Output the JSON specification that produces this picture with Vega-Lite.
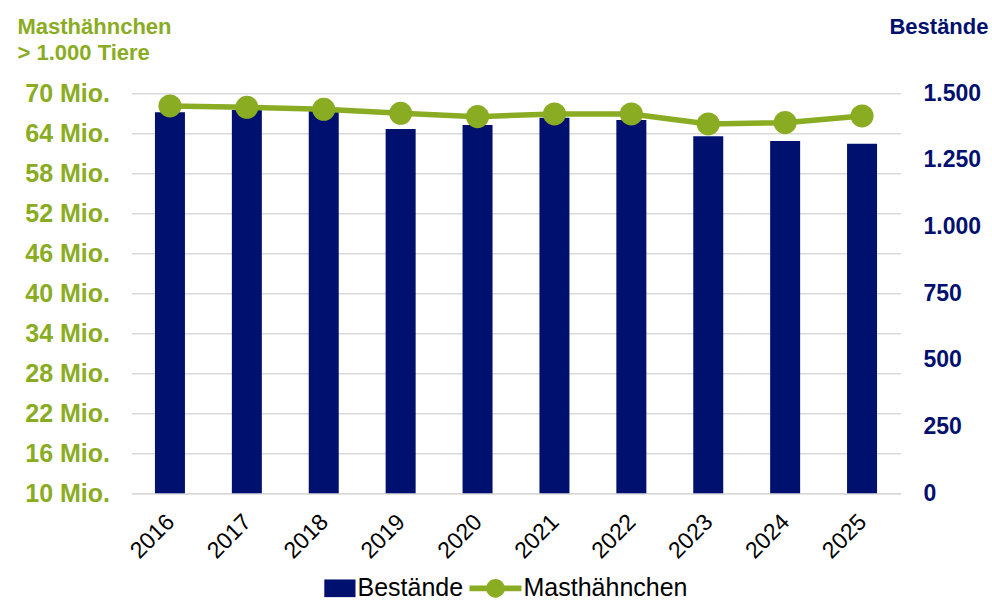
{
  "$schema": "https://vega.github.io/schema/vega-lite/v6.json",
  "width": 769,
  "height": 400,
  "autosize": {"type": "none"},
  "padding": {"left": 131.5, "top": 93.3, "right": 91.5, "bottom": 106.7},
  "background": "white",
  "config": {
    "font": "Liberation Sans",
    "view": {"stroke": null}
  },
  "data": {
    "values": [
      {"Jahr": "2016", "Bestaende": 1429, "Mio": 68.1},
      {"Jahr": "2017", "Bestaende": 1437, "Mio": 67.9},
      {"Jahr": "2018", "Bestaende": 1434, "Mio": 67.6},
      {"Jahr": "2019", "Bestaende": 1366, "Mio": 67.0},
      {"Jahr": "2020", "Bestaende": 1381, "Mio": 66.5},
      {"Jahr": "2021", "Bestaende": 1408, "Mio": 66.9},
      {"Jahr": "2022", "Bestaende": 1400, "Mio": 66.9},
      {"Jahr": "2023", "Bestaende": 1339, "Mio": 65.4},
      {"Jahr": "2024", "Bestaende": 1321, "Mio": 65.6},
      {"Jahr": "2025", "Bestaende": 1311, "Mio": 66.6}
    ]
  },
  "encoding": {
    "x": {
      "field": "Jahr",
      "type": "ordinal",
      "scale": {"paddingInner": 0.61, "paddingOuter": 0.305},
      "axis": {
        "title": null,
        "labelAngle": -45,
        "labelFontSize": 23,
        "labelColor": "#000000",
        "labelPadding": 17,
        "labelOffset": -7,
        "ticks": false,
        "domainColor": "#d9d9d9",
        "domainWidth": 1.5,
        "grid": false
      }
    }
  },
  "layer": [
    {
      "mark": {"type": "bar"},
      "encoding": {
        "y": {
          "field": "Bestaende",
          "type": "quantitative",
          "scale": {"domain": [0, 1500], "nice": false},
          "axis": {
            "orient": "right",
            "values": [0, 250, 500, 750, 1000, 1250, 1500],
            "labelExpr": "replace(format(datum.value, ','), ',', '.')",
            "labelFontSize": 23,
            "labelFontWeight": "bold",
            "labelColor": "#00106f",
            "labelPadding": 22.5,
            "ticks": false,
            "domain": false,
            "grid": false,
            "title": "Bestände",
            "titleFontSize": 22,
            "titleFontWeight": "bold",
            "titleColor": "#00106f",
            "titleAngle": 0,
            "titleAlign": "right",
            "titleBaseline": "top",
            "titleX": 87.5,
            "titleY": -77
          }
        },
        "color": {
          "datum": "Bestände",
          "type": "nominal",
          "scale": {"domain": ["Bestände", "Masthähnchen"], "range": ["#00106f", "#8aac23"]},
          "legend": {
            "title": null,
            "orient": "none",
            "direction": "horizontal",
            "legendX": 172,
            "legendY": 469,
            "labelFontSize": 25,
            "labelColor": "#000000",
            "labelLimit": 400,
            "labelOffset": 2,
            "columnPadding": 6,
            "symbolSize": 2704,
            "symbolStrokeWidth": 0,
            "encode": {
              "symbols": {
                "update": {
                  "shape": {"signal": "datum.value === 'Bestände' ? 'M-0.2,-0.34H1V0.34H-0.2Z' : 'M-1,-0.11H1V0.11H-1Z M-0.36,0A0.36,0.36 0 1,1 0.36,0A0.36,0.36 0 1,1 -0.36,0Z'"},
                  "strokeWidth": {"value": 0}
                }
              }
            }
          }
        }
      }
    },
    {
      "mark": {"type": "line", "strokeWidth": 5.5, "color": "#8aac23"},
      "encoding": {
        "y": {
          "field": "Mio",
          "type": "quantitative",
          "scale": {"domain": [10, 70], "nice": false, "zero": false},
          "axis": {
            "orient": "left",
            "values": [10, 16, 22, 28, 34, 40, 46, 52, 58, 64, 70],
            "labelExpr": "datum.value + ' Mio.'",
            "labelFontSize": 25,
            "labelFontWeight": "bold",
            "labelColor": "#8aac23",
            "labelPadding": 22,
            "ticks": false,
            "domain": false,
            "grid": true,
            "gridColor": "#d9d9d9",
            "gridWidth": 1.5,
            "title": ["Masthähnchen", "> 1.000 Tiere"],
            "titleFontSize": 22,
            "titleFontWeight": "bold",
            "titleColor": "#8aac23",
            "titleAngle": 0,
            "titleAlign": "left",
            "titleBaseline": "top",
            "titleLineHeight": 26,
            "titleX": -114.5,
            "titleY": -77
          }
        },
        "color": {"datum": "Masthähnchen", "type": "nominal"}
      }
    },
    {
      "mark": {"type": "point", "filled": true, "size": 530, "opacity": 1, "color": "#8aac23"},
      "encoding": {
        "y": {"field": "Mio", "type": "quantitative", "scale": {"domain": [10, 70], "nice": false, "zero": false}, "axis": null}
      }
    }
  ],
  "resolve": {"scale": {"y": "independent"}}
}
